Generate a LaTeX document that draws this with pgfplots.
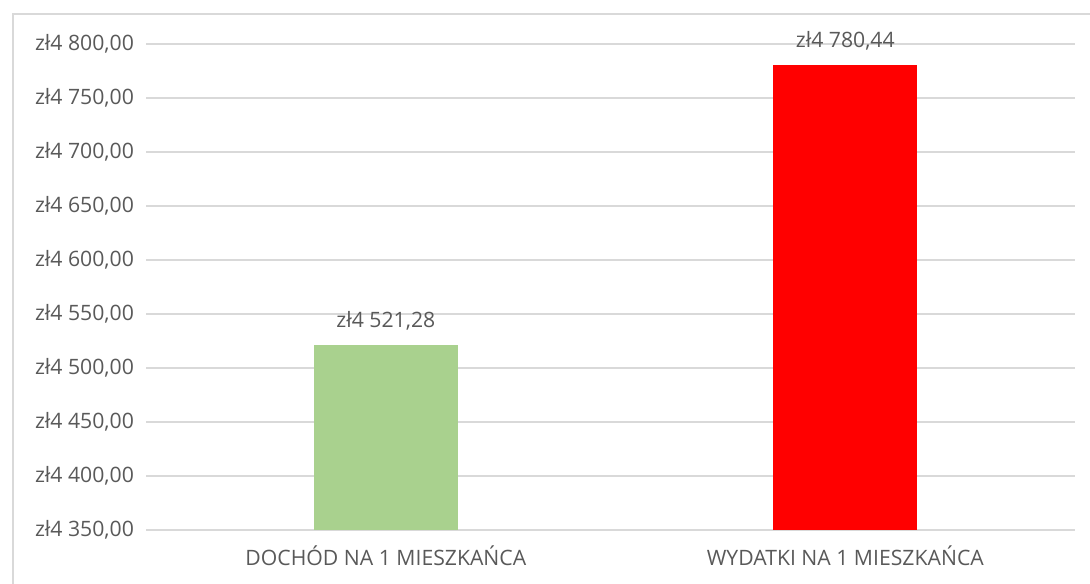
\documentclass[border=0pt]{standalone}
\usepackage{fontspec}
\setmainfont{Open Sans}
\usepackage{pgfplots}
\pgfplotsset{compat=1.18}
\definecolor{gridgray}{HTML}{D9D9D9}
\definecolor{labgray}{HTML}{595959}
\definecolor{greenbar}{HTML}{A9D18E}
\definecolor{redbar}{HTML}{FF0000}
\begin{document}
\begin{tikzpicture}[x=0.5pt,y=0.5pt]
% page = 1090 x 583 px, plot area lower-left at (146,530) px
\path[use as bounding box] (-146,-53) rectangle (944,530);
\draw[gridgray, line width=1.2pt] (-133,-60) -- (-133,516) -- (944,516);
\begin{axis}[
    at={(0pt,0pt)}, anchor=south west,
    scale only axis,
    width=464.5pt, height=243pt,
    ybar, bar width=72pt,
    xmin=-0.522, xmax=1.5,
    ymin=4350, ymax=4800,
    xtick={0,1},
    xticklabels={DOCHÓD NA 1 MIESZKAŃCA, WYDATKI NA 1 MIESZKAŃCA},
    ytick={4350,4400,...,4800},
    yticklabels={{zł4 350,00},{zł4 400,00},{zł4 450,00},{zł4 500,00},{zł4 550,00},{zł4 600,00},{zł4 650,00},{zł4 700,00},{zł4 750,00},{zł4 800,00}},
    axis line style={draw=none},
    xtick pos=bottom, ytick pos=left,
    ymajorgrids, grid style={gridgray, line width=0.9pt},
    major tick length=0pt,
    tick label style={font=\fontsize{10.6}{12}\selectfont, text=labgray},
    yticklabel style={anchor=east, xshift=-2.5pt},
    xticklabel style={anchor=center, yshift=-13pt},
    clip=false,
    nodes near coords,
    point meta=explicit symbolic,
    every node near coord/.append style={font=\fontsize{10.6}{12}\selectfont, text=labgray, anchor=south, yshift=4pt},
]
\draw[gridgray, line width=0.9pt] (axis cs:-0.522,4350) -- (axis cs:1.5,4350);
\addplot[fill=greenbar, draw=none, bar shift=0pt] coordinates {(0,4521.28) [zł4 521,28]};
\addplot[fill=redbar, draw=none, bar shift=0pt] coordinates {(1,4780.44) [zł4 780,44]};
\end{axis}
\end{tikzpicture}
\end{document}
